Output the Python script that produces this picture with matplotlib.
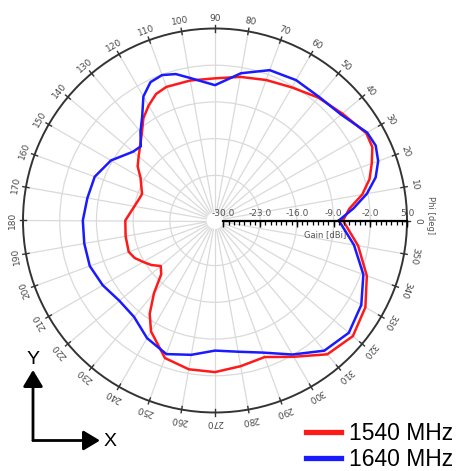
import numpy as np
import matplotlib
matplotlib.use("Agg")
import matplotlib.pyplot as plt
from matplotlib.lines import Line2D
from matplotlib.patches import FancyArrowPatch

# --- data: gain [dBi] vs phi [deg] ---
phi_1540 = [0, 5, 10, 15, 20, 25, 30, 40, 50, 60, 70, 80, 90, 100, 110, 115, 120,
            125, 130, 140, 145, 150, 160, 165, 170, 180, 190, 200, 205, 210, 215,
            220, 225, 230, 235, 240, 250, 260, 270, 280, 290, 300, 310, 320, 330,
            340, 350, 360]
gain_1540 = [-7.2, -5.9, -3.1, -1.1, 0.2, 1.5, 1.7, 0.1, -1.0, -2.3, -3.1, -3.8,
             -4.5, -4.5, -4.5, -5.0, -6.3, -7.8, -9.9, -12.6, -13.6, -15.2, -16.8,
             -16.5, -16.0, -14.5, -14.3, -14.1, -14.7, -15.8, -16.8, -18.1, -17.1,
             -13.5, -9.9, -7.2, -3.7, -2.8, -2.7, -3.4, -3.9, -1.6, 1.7, 2.7, 1.5,
             -0.8, -3.9, -7.2]

phi_1640 = [0, 5, 10, 15, 20, 25, 30, 40, 50, 60, 70, 80, 90, 100, 105, 110, 115,
            120, 125, 130, 135, 140, 150, 160, 170, 180, 190, 200, 210, 220, 230,
            240, 250, 260, 270, 280, 290, 300, 310, 320, 330, 340, 350, 360]
gain_1640 = [-8.0, -5.1, -2.2, 0.1, 1.5, 2.2, 1.9, -0.2, -0.8, -0.7, -1.1, -3.1,
             -5.8, -4.0, -2.7, -2.1, -2.5, -4.3, -7.4, -9.5, -11.6, -11.2, -8.7,
             -7.2, -6.9, -6.4, -6.3, -6.2, -6.9, -7.8, -7.6, -5.7, -4.5, -5.6,
             -6.8, -6.2, -4.8, -2.1, 0.8, 1.7, 0.6, -1.5, -4.7, -8.0]

phi_ticks = list(range(0, 360, 10))
gain_ticks = [-30, -23, -16, -9, -2, 5]

red = '#ff1a1a'
blue = '#1a1aff'

W, H = 459, 471
fig = plt.figure(figsize=(W / 100, H / 100), dpi=100)
cx, cy, R = 215, 220.5, 192
ax = fig.add_axes([(cx - R) / W, (H - cy - R) / H, 2 * R / W, 2 * R / H],
                  projection='polar')

ax.set_ylim(-30, 5)
ax.set_rorigin(-31.6)
ax.set_xticks(np.deg2rad(phi_ticks))
ax.set_xticklabels([])
ax.set_yticks(gain_ticks[1:-1])
ax.set_yticklabels([])
ax.grid(color='#dadada', lw=0.9)
ax.spines['polar'].set_color('#333333')
ax.spines['polar'].set_linewidth(1.4)
# polar axes re-enable the inner spine on draw, so just make it invisible
ax.spines['inner'].set_linewidth(0)
ax.spines['inner'].set_edgecolor('none')
ax.tick_params(axis='both', length=0)

# small tick marks on the rim
for a in phi_ticks:
    ax.plot([np.deg2rad(a)] * 2, [4.4, 5.6], color='#333333', lw=1.0,
            clip_on=False, zorder=3)

# curves
ax.plot(np.deg2rad(phi_1540), gain_1540, color=red, lw=1.8, zorder=4)
ax.plot(np.deg2rad(phi_1640), gain_1640, color=blue, lw=1.8, zorder=4)

# angle labels around the rim
for a in phi_ticks:
    ax.text(np.deg2rad(a), 7.0, str(a), rotation=a - 90, rotation_mode='anchor',
            ha='center', va='center', fontsize=6.5, color='#4a4a4a')

# radial gain axis along phi = 0
ax.plot([0, 0], [-30, 5], color='black', lw=1.6, zorder=5, clip_on=False)
ax.plot(np.zeros(36), np.arange(-30, 6), ls='none', marker=3, ms=3, mew=0.9,
        color='black', zorder=5, clip_on=False)
ax.plot(np.zeros(len(gain_ticks)), gain_ticks, ls='none', marker=3, ms=4.5,
        mew=1.0, color='black', zorder=5, clip_on=False)
for v in gain_ticks:
    ax.annotate(f'{v:.1f}', xy=(0, v), xytext=(0, 2), textcoords='offset points',
                ha='center', va='bottom', fontsize=6.5, color='#555555',
                annotation_clip=False, zorder=6)
ax.annotate('Gain [dBi]', xy=(0, -10.7), xytext=(0, -7), textcoords='offset points',
            ha='center', va='top', fontsize=6, color='#555555',
            annotation_clip=False)
fig.text(430 / W, 1 - 215 / H, 'Phi [deg]', rotation=-90, ha='center',
         va='center', fontsize=6, color='#555555')

# legend
handles = [Line2D([], [], color=red, lw=3.8, label='1540 MHz'),
           Line2D([], [], color=blue, lw=3.8, label='1640 MHz')]
fig.legend(handles=handles, loc='lower right', bbox_to_anchor=(453 / W, 0.0),
           frameon=False, prop={'family': 'Liberation Sans', 'size': 16.5},
           handlelength=1.5, handletextpad=0.35, labelspacing=0.15,
           borderpad=0.0, borderaxespad=0.0)

# X / Y axes sketch
def fp(x, y):
    return (x / W, 1 - y / H)

for tip in [(33, 370), (100, 440.5)]:
    fig.add_artist(FancyArrowPatch(fp(33, 440.5), fp(*tip), transform=fig.transFigure,
                                   arrowstyle='-|>,head_length=0.5,head_width=0.3',
                                   mutation_scale=20, lw=2, color='black',
                                   shrinkA=0, shrinkB=0))
fig.text(*fp(33, 360), 'Y', ha='center', va='center', fontsize=14,
         family='Liberation Sans')
fig.text(*fp(110, 441), 'X', ha='center', va='center', fontsize=14,
         family='Liberation Sans')

fig.savefig('out.png', dpi=100)
